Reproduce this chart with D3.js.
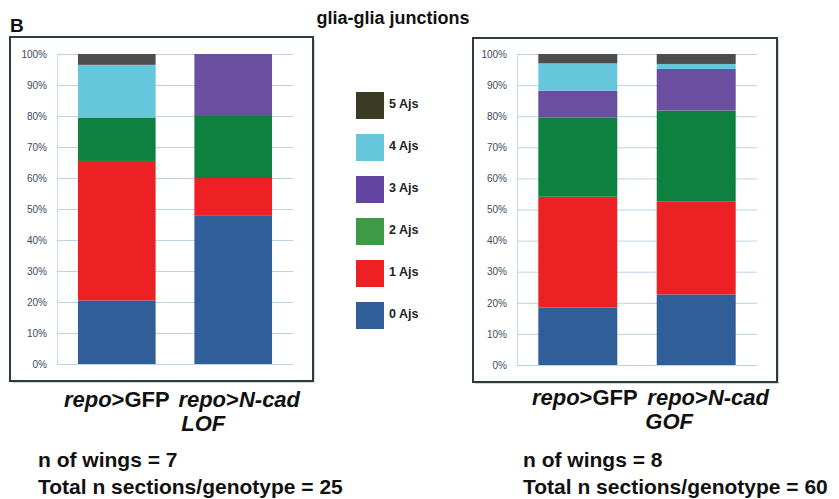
<!DOCTYPE html>
<html><head><meta charset="utf-8">
<script src="https://cdn.jsdelivr.net/npm/d3@7"></script>
<style>body{margin:0;background:#fff}svg{display:block}</style>
</head><body>
<svg id="c" width="839" height="499"></svg>
<script>
// ---- data ----
const series = ["0 Ajs", "1 Ajs", "2 Ajs", "3 Ajs", "4 Ajs", "5 Ajs"];
const barColors = ["#2f5e98", "#ed2124", "#0e8140", "#6a4e9f", "#66c7dc", "#4d4d4d"];
const legendColors = ["#2f5e98", "#ed2124", "#3e9a45", "#6244a3", "#66c7dc", "#3b3a24"];
const yTicks = [0, 10, 20, 30, 40, 50, 60, 70, 80, 90, 100];

const lofCategories = ["GFP", "LOF"];
const lofAjs0 = [20.5, 48];
const lofAjs1 = [45, 12];
const lofAjs2 = [14, 20];
const lofAjs3 = [0, 20];
const lofAjs4 = [17, 0];
const lofAjs5 = [3.5, 0];

const gofCategories = ["GFP", "GOF"];
const gofAjs0 = [18.5, 22.7];
const gofAjs1 = [35.6, 29.8];
const gofAjs2 = [25.5, 29.3];
const gofAjs3 = [8.6, 13.4];
const gofAjs4 = [8.8, 1.6];
const gofAjs5 = [3, 3.2];

const title = "glia-glia junctions";
const lofNotes = ["n of wings = 7", "Total n sections/genotype = 25"];
const gofNotes = ["n of wings = 8", "Total n sections/genotype = 60"];

// ---- drawing ----
const svg = d3.select("#c");
const FONT = "Liberation Sans, Arial, sans-serif";

svg.append("text").attr("x", 10).attr("y", 32).attr("font-family", FONT)
  .attr("font-weight", "bold").attr("font-size", 19).attr("fill", "#111").text("B");
svg.append("text").attr("x", 393).attr("y", 24).attr("text-anchor", "middle").attr("font-family", FONT)
  .attr("font-weight", "bold").attr("font-size", 18).attr("fill", "#111").text(title);

function table(cats, cols) {
  return cats.map((c, i) => {
    const row = { cat: c };
    series.forEach((s, j) => row[s] = cols[j][i]);
    return row;
  });
}

function panel(opt) {
  const [bx0, by0, bx1, by1] = opt.box;
  svg.append("rect").attr("x", bx0 + 2).attr("y", by0 + 2).attr("width", bx1 - bx0).attr("height", by1 - by0)
    .attr("fill", "#d9d4d0");
  svg.append("rect").attr("x", bx0).attr("y", by0).attr("width", bx1 - bx0).attr("height", by1 - by0)
    .attr("fill", "#fff").attr("stroke", "#2c3b42").attr("stroke-width", 2);

  const x = d3.scaleBand().domain(opt.cats).range([opt.x0, opt.x1]).paddingInner(0.333).paddingOuter(0.18);
  const y = d3.scaleLinear().domain([0, 100]).range([opt.yb, opt.yt]);

  const ax = svg.append("g").attr("transform", `translate(${opt.x0},0)`)
    .call(d3.axisLeft(y).tickValues(yTicks).tickFormat(d => d + "%")
      .tickSizeInner(-(opt.x1 - opt.x0)).tickSizeOuter(0).tickPadding(10));
  ax.select(".domain").attr("stroke", "#c9dceb").attr("stroke-width", 1);
  ax.selectAll(".tick line").attr("stroke", "#bcd3e6").attr("stroke-width", 1);
  ax.selectAll(".tick text").attr("font-family", FONT).attr("font-size", 10).attr("fill", "#3a4a5e");

  const data = table(opt.cats, opt.cols);
  const stacked = d3.stack().keys(series)(data);
  svg.append("g").selectAll("g").data(stacked).join("g")
    .attr("fill", (d, i) => barColors[i])
    .selectAll("rect").data(d => d).join("rect")
    .attr("x", d => x(d.data.cat))
    .attr("width", x.bandwidth())
    .attr("y", d => y(d[1]))
    .attr("height", d => Math.max(0, y(d[0]) - y(d[1])));

  const lab = (cx, cy, parts) => {
    const t = svg.append("text").attr("x", cx).attr("y", cy).attr("text-anchor", "middle")
      .attr("font-family", FONT).attr("font-weight", "bold").attr("font-size", 22).attr("fill", "#111");
    parts.forEach(p => t.append("tspan").attr("font-style", p[1] ? "italic" : "normal").text(p[0]));
  };
  const c0 = x(opt.cats[0]) + x.bandwidth() / 2;
  const c1 = x(opt.cats[1]) + x.bandwidth() / 2;
  lab(c0 + opt.dx[0], opt.labY, [["repo", true], [">GFP", false]]);
  lab(c1 + opt.dx[1], opt.labY, [["repo", true], [">", false], ["N-cad", true]]);
  lab(c1 + opt.dx[2], opt.labY + 24, [[opt.cats[1], true]]);

  opt.notes.forEach((n, i) => svg.append("text").attr("x", opt.noteX).attr("y", 467 + i * 27)
    .attr("font-family", FONT).attr("font-weight", "bold").attr("font-size", 21).attr("fill", "#111").text(n));
}

panel({ box: [10, 37, 313, 381], x0: 57, x1: 293, yt: 54, yb: 364, cats: lofCategories,
  cols: [lofAjs0, lofAjs1, lofAjs2, lofAjs3, lofAjs4, lofAjs5], labY: 407, dx: [0, 6, -30],
  notes: lofNotes, noteX: 38 });
panel({ box: [473, 38, 777, 382], x0: 517, x1: 757, yt: 54, yb: 365, cats: gofCategories,
  cols: [gofAjs0, gofAjs1, gofAjs2, gofAjs3, gofAjs4, gofAjs5], labY: 405, dx: [7, 12, -27],
  notes: gofNotes, noteX: 523 });

// legend
const order = [5, 4, 3, 2, 1, 0];
const lg = svg.append("g");
order.forEach((si, k) => {
  const yy = 92 + k * 42;
  lg.append("rect").attr("x", 356).attr("y", yy).attr("width", 28).attr("height", 27)
    .attr("fill", legendColors[si]);
  lg.append("text").attr("x", 389).attr("y", yy + 16).attr("font-family", FONT).attr("font-weight", "bold")
    .attr("font-size", 12.5).attr("fill", "#222").text(series[si]);
});
</script>
</body></html>
